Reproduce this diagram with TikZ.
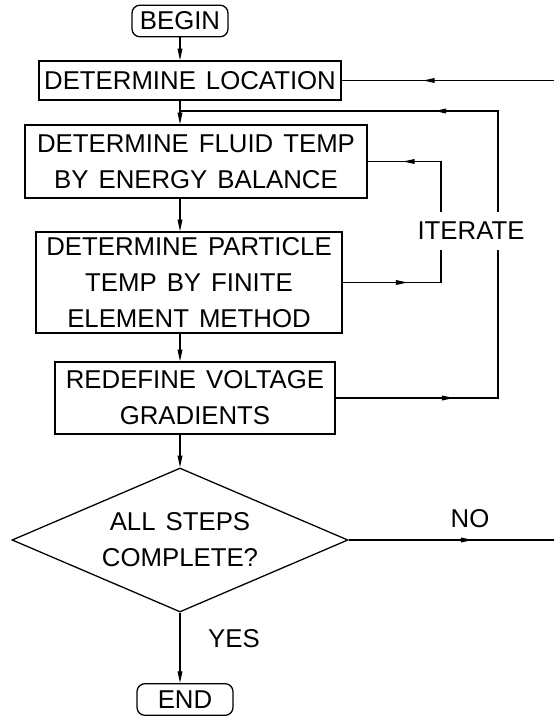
\documentclass[tikz,border=0pt]{standalone}
\usepackage{fontspec}
\setmainfont[WordSpace=1.4]{Liberation Sans}
\usetikzlibrary{shapes.geometric, arrows.meta, decorations.markings}

\begin{document}
\begin{tikzpicture}[
  x=0.03cm, y=-0.03cm,
  line width=1.1pt,
  font=\fontsize{22}{30.7}\selectfont,
  box/.style={rectangle, draw, align=center, inner sep=0pt},
  term/.style={box, rounded corners=0.24cm, minimum width=2.88cm, minimum height=0.95cm},
  decision/.style={diamond, draw, align=center, inner sep=0pt, aspect=2.33},
  tag/.style={inner sep=0pt},
  arrow/.style={-{Triangle[length=10pt,width=4pt]}},
  midarrow/.style={postaction={decorate}, decoration={markings,
    mark=at position #1 with {\arrow{Triangle[length=10pt,width=4pt]}}}}
]
  \useasboundingbox (0,0) rectangle (554,716);
  \coordinate (spine) at (180,0);
  \coordinate (redge) at (554,0);
  \coordinate (outer) at (498,111);
  \coordinate (inner) at (441,0);

  \node[term] (begin) at (180,21) {BEGIN};
  \node[box, minimum width=9.06cm, minimum height=1.17cm] (loc) at (190,80.5) {DETERMINE LOCATION};
  \node[box, minimum width=10.26cm, minimum height=2.19cm] (fluid) at (196,161.5) {DETERMINE FLUID TEMP\\BY ENERGY BALANCE};
  \node[box, minimum width=9.18cm, minimum height=3.03cm] (particle) at (189,282.5) {DETERMINE PARTICLE\\TEMP BY FINITE\\ELEMENT METHOD};
  \node[box, minimum width=8.4cm, minimum height=2.16cm] (redefine) at (195,398) {REDEFINE VOLTAGE\\GRADIENTS};
  \node[decision, minimum width=10.08cm, minimum height=4.32cm] (check) at (180,540) {ALL STEPS\\COMPLETE?};
  \node[term] (finish) at (185,699.5) {END};
  \node[tag, inner ysep=0.27cm] (iter) at (471,231) {ITERATE};
  \node[tag] (no) at (470,519) {NO};
  \node[tag] (yes) at (234,639) {YES};

  \draw[arrow] (begin.south -| spine) -- (loc.north -| spine);
  \draw[arrow] (loc.south -| spine) -- (fluid.north -| spine);
  \draw[arrow] (fluid.south -| spine) -- (particle.north -| spine);
  \draw[arrow] (particle.south -| spine) -- (redefine.north -| spine);
  \draw[arrow] (redefine.south -| spine) -- (check.north);
  \draw[arrow] (check.south) -- (finish.north -| check.south);

  \draw[midarrow=3.93cm] (loc.east -| redge) -- (loc.east);
  \draw[midarrow=3.72cm] (check.east) -- (check.east -| redge);

  \draw[midarrow=3.54cm] (redefine.east) -- (redefine.east -| outer) -- (iter.south -| outer);
  \draw[midarrow=4.95cm] (iter.north -| outer) -- (outer) -- (outer -| spine);
  \draw[midarrow=1.95cm] (particle.east) -- (particle.east -| inner) -- (iter.south -| inner);
  \draw[midarrow=2.67cm] (iter.north -| inner) -- (fluid.east -| inner) -- (fluid.east);
\end{tikzpicture}
\end{document}
